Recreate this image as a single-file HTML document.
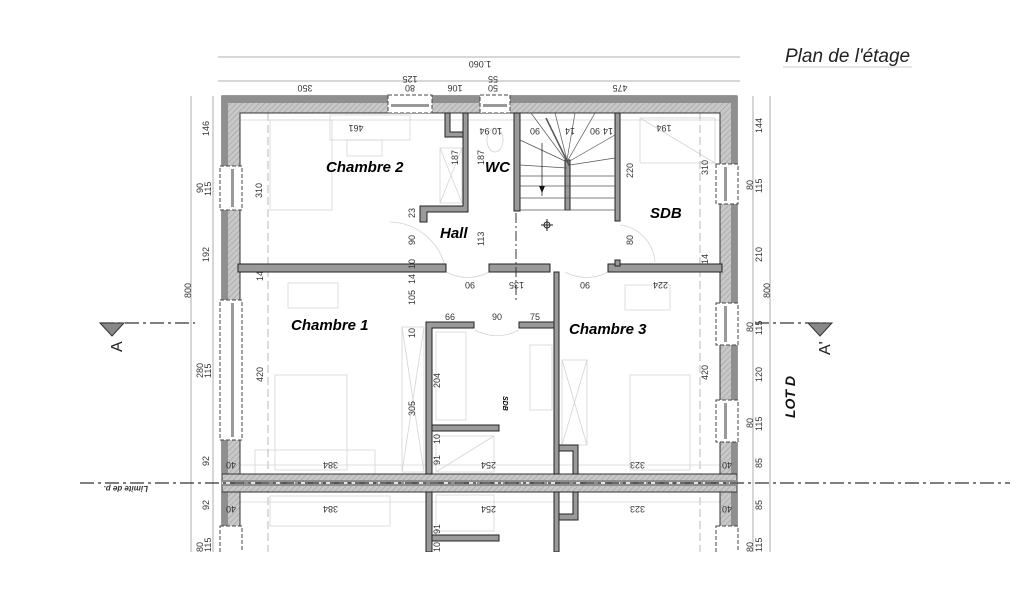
<!DOCTYPE html>
<html><head><meta charset="utf-8"><style>
html,body{margin:0;padding:0;background:#fff}
svg{display:block}
text{font-family:"Liberation Sans",sans-serif}
.d{font-size:9px;fill:#333}
.r{font-size:15px;font-weight:bold;font-style:italic;fill:#000}
.f{fill:none;stroke:#d4d4d4;stroke-width:0.8}
.dl{stroke:#999;stroke-width:0.8}
</style></head><body>
<svg width="1024" height="600" viewBox="0 0 1024 600" xmlns="http://www.w3.org/2000/svg">
<defs>
<pattern id="h" width="4" height="4" patternUnits="userSpaceOnUse" patternTransform="rotate(45)">
<rect width="4" height="4" fill="#c8c8c8"/><line x1="0" y1="0" x2="0" y2="4" stroke="#a0a0a0" stroke-width="1.2"/></pattern>
</defs>
<rect width="1024" height="600" fill="#fff"/>
<clipPath id="cp"><rect x="0" y="0" width="1024" height="552"/></clipPath>
<g clip-path="url(#cp)">

<text x="785" y="62" font-size="19" font-style="italic" fill="#222">Plan de l'étage</text>
<line x1="783" y1="67" x2="912" y2="67" stroke="#bbb" stroke-width="0.8"/>

<line x1="218" y1="57" x2="740" y2="57" class="dl"/>
<text class="d" transform="translate(480,61) rotate(180)" text-anchor="middle">1.060</text>
<line x1="218" y1="81" x2="740" y2="81" class="dl"/>
<text class="d" transform="translate(305,85) rotate(180)" text-anchor="middle">350</text>
<text class="d" transform="translate(410,85) rotate(180)" text-anchor="middle">80</text>
<text class="d" transform="translate(410,76) rotate(180)" text-anchor="middle">125</text>
<text class="d" transform="translate(455,85) rotate(180)" text-anchor="middle">106</text>
<text class="d" transform="translate(493,85) rotate(180)" text-anchor="middle">50</text>
<text class="d" transform="translate(493,76) rotate(180)" text-anchor="middle">55</text>
<text class="d" transform="translate(620,85) rotate(180)" text-anchor="middle">475</text>

<line x1="191" y1="96" x2="191" y2="552" class="dl"/>
<line x1="213" y1="96" x2="213" y2="552" class="dl"/>
<line x1="753" y1="96" x2="753" y2="552" class="dl"/>
<line x1="770" y1="96" x2="770" y2="552" class="dl"/>
<g class="d">
<text transform="translate(209,136) rotate(-90)">146</text>
<text transform="translate(203,193) rotate(-90)">90</text>
<text transform="translate(211,196) rotate(-90)">115</text>
<text transform="translate(209,262) rotate(-90)">192</text>
<text transform="translate(191,298) rotate(-90)">800</text>
<text transform="translate(203,378) rotate(-90)">280</text>
<text transform="translate(211,378) rotate(-90)">115</text>
<text transform="translate(209,466) rotate(-90)">92</text>
<text transform="translate(209,510) rotate(-90)">92</text>
<text transform="translate(203,552) rotate(-90)">80</text>
<text transform="translate(211,552) rotate(-90)">115</text>
<text transform="translate(762,133) rotate(-90)">144</text>
<text transform="translate(753,190) rotate(-90)">80</text>
<text transform="translate(762,193) rotate(-90)">115</text>
<text transform="translate(762,262) rotate(-90)">210</text>
<text transform="translate(770,298) rotate(-90)">800</text>
<text transform="translate(753,332) rotate(-90)">80</text>
<text transform="translate(762,335) rotate(-90)">115</text>
<text transform="translate(762,382) rotate(-90)">120</text>
<text transform="translate(753,428) rotate(-90)">80</text>
<text transform="translate(762,431) rotate(-90)">115</text>
<text transform="translate(762,468) rotate(-90)">85</text>
<text transform="translate(762,510) rotate(-90)">85</text>
<text transform="translate(753,552) rotate(-90)">80</text>
<text transform="translate(762,552) rotate(-90)">115</text>
</g>

<g class="f">
<rect x="270" y="120" width="62" height="90"/>
<rect x="330" y="115" width="80" height="25"/>
<rect x="347" y="140" width="35" height="16"/>
<rect x="440" y="148" width="22" height="55"/>
<line x1="440" y1="148" x2="462" y2="203"/><line x1="462" y1="148" x2="440" y2="203"/>
<ellipse cx="495" cy="140" rx="8" ry="12"/>
<rect x="288" y="283" width="50" height="25"/>
<rect x="275" y="375" width="72" height="95"/>
<rect x="255" y="450" width="120" height="24"/>
<rect x="402" y="327" width="22" height="145"/>
<line x1="402" y1="327" x2="424" y2="472"/><line x1="424" y1="327" x2="402" y2="472"/>
<rect x="436" y="332" width="30" height="88"/>
<rect x="530" y="345" width="22" height="65"/>
<rect x="562" y="360" width="25" height="85"/>
<line x1="562" y1="360" x2="587" y2="445"/><line x1="587" y1="360" x2="562" y2="445"/>
<rect x="630" y="375" width="60" height="95"/>
<rect x="625" y="285" width="45" height="25"/>
<rect x="640" y="118" width="75" height="45"/>
<line x1="640" y1="118" x2="715" y2="163"/>
<rect x="436" y="436" width="58" height="36"/>
<line x1="436" y1="472" x2="494" y2="436"/>
<rect x="270" y="496" width="120" height="30"/>
<rect x="436" y="495" width="58" height="36"/>
<path d="M390,222 A58,58 0 0 1 446,272" />
<path d="M446,272 A45,45 0 0 0 489,272"/>
<path d="M475,330 A45,45 0 0 0 519,330"/>
<path d="M565,272 A45,45 0 0 0 608,272"/>
<path d="M620,225 A40,40 0 0 1 655,262"/>
<line x1="268" y1="113" x2="268" y2="552" stroke-dasharray="8,4" stroke="#aaa"/>
<line x1="700" y1="113" x2="700" y2="552" stroke-dasharray="8,4" stroke="#aaa"/>
<line x1="238" y1="120" x2="722" y2="120"/>
<line x1="238" y1="465" x2="722" y2="465"/>
<line x1="238" y1="502" x2="722" y2="502"/>
</g>

<path d="M222,96 H737 V552 H720 V113 H240 V552 H222 Z" fill="url(#h)" stroke="#333" stroke-width="1"/>
<path d="M222,96 H737 V552 H731 V103 H228 V552 H222 Z" fill="#8f8f8f"/>
<rect x="222" y="474" width="515" height="18" fill="url(#h)" stroke="#333" stroke-width="1"/>
<rect x="222" y="480" width="515" height="6" fill="#8f8f8f"/>
<line x1="222" y1="483" x2="737" y2="483" stroke="#fff" stroke-width="1.5" stroke-dasharray="8,5"/>

<g fill="#fff" stroke="#444" stroke-width="1" stroke-dasharray="4,2">
<rect x="388" y="95" width="44" height="18"/><rect x="480" y="95" width="30" height="18"/>
<rect x="220" y="166" width="22" height="44"/><rect x="220" y="300" width="22" height="140"/><rect x="220" y="526" width="22" height="30"/>
<rect x="716" y="164" width="22" height="40"/><rect x="716" y="303" width="22" height="42"/><rect x="716" y="400" width="22" height="42"/><rect x="716" y="526" width="22" height="30"/>
</g>
<g fill="#999">
<rect x="391" y="104" width="38" height="3"/><rect x="483" y="104" width="24" height="3"/>
<rect x="231" y="169" width="3" height="38"/><rect x="231" y="303" width="3" height="134"/>
<rect x="724" y="167" width="3" height="34"/><rect x="724" y="306" width="3" height="36"/><rect x="724" y="403" width="3" height="36"/>
</g>

<g fill="#9a9a9a" stroke="#222" stroke-width="1">
<rect x="238" y="264" width="208" height="8"/>
<rect x="489" y="264" width="61" height="8"/>
<rect x="608" y="264" width="114" height="8"/>
<path d="M420,206 H463 V113 H468 V212 H427 V222 H420 Z"/>
<path d="M445,113 H450 V132 H463 V137 H445 Z"/>
<rect x="514" y="113" width="6" height="98"/>
<rect x="615" y="113" width="5" height="108"/>
<rect x="615" y="260" width="5" height="6"/>
<rect x="565" y="160" width="5" height="50"/>
<path d="M426,322 H474 V328 H432 V474 H426 Z"/>
<rect x="519" y="322" width="35" height="6"/>
<rect x="554" y="272" width="5" height="202"/>
<rect x="432" y="425" width="67" height="6"/>
<path d="M559,445 H578 V474 H573 V451 H559 Z"/>
<rect x="426" y="492" width="6" height="60"/>
<rect x="554" y="492" width="5" height="60"/>
<path d="M559,492 H578 V520 H559 V514 H573 V492 Z"/>
<rect x="432" y="535" width="67" height="6"/>
</g>

<g stroke="#555" stroke-width="0.7" fill="none">
<line x1="520" y1="140" x2="567" y2="162"/><line x1="520" y1="165" x2="567" y2="168"/>
<line x1="520" y1="176" x2="615" y2="176"/><line x1="520" y1="186" x2="615" y2="186"/>
<line x1="520" y1="198" x2="615" y2="198"/><line x1="520" y1="210" x2="615" y2="210"/>
<line x1="531" y1="113" x2="567" y2="162"/><line x1="555" y1="113" x2="567" y2="160"/>
<line x1="575" y1="113" x2="567" y2="160"/><line x1="595" y1="113" x2="568" y2="160"/>
<line x1="615" y1="135" x2="568" y2="162"/><line x1="615" y1="158" x2="570" y2="165"/>
<line x1="546" y1="118" x2="570" y2="167" stroke-width="1.5"/>
<line x1="542" y1="143" x2="542" y2="196" stroke="#111"/>
</g>
<path d="M539,186 L545,186 L542,193 Z" fill="#111"/>
<line x1="516" y1="213" x2="516" y2="300" stroke="#333" stroke-dasharray="10,3,2,3"/>
<circle cx="547" cy="225" r="3" fill="none" stroke="#222"/>
<line x1="541" y1="225" x2="553" y2="225" stroke="#222"/><line x1="547" y1="219" x2="547" y2="231" stroke="#222"/>

<g stroke="#333" stroke-width="1.2" stroke-dasharray="14,4,3,4" fill="none">
<line x1="80" y1="483" x2="1010" y2="483"/>
<line x1="100" y1="323" x2="195" y2="323"/>
<line x1="755" y1="323" x2="830" y2="323"/>
</g>
<path d="M100,323 L124,323 L112,336 Z" fill="#888" stroke="#333"/>
<path d="M808,323 L832,323 L820,336 Z" fill="#888" stroke="#333"/>
<text transform="translate(122,352) rotate(-90)" font-size="16" fill="#222">A</text>
<text transform="translate(830,355) rotate(-90)" font-size="16" fill="#222">A'</text>
<text transform="translate(148,486) rotate(180)" font-size="8" font-weight="bold" font-style="italic" fill="#333">Limite de p.</text>
<text transform="translate(795,418) rotate(-90)" font-size="14" font-weight="bold" font-style="italic" fill="#111">LOT D</text>

<text class="r" x="326" y="172">Chambre 2</text>
<text class="r" x="485" y="172">WC</text>
<text class="r" x="440" y="238">Hall</text>
<text class="r" x="650" y="218">SDB</text>
<text class="r" x="291" y="330">Chambre 1</text>
<text class="r" x="569" y="334">Chambre 3</text>
<text transform="translate(503,396) rotate(90)" font-size="7" font-weight="bold" font-style="italic">SDB</text>

<g class="d">
<text transform="translate(356,125) rotate(180)" text-anchor="middle">461</text>
<text transform="translate(664,125) rotate(180)" text-anchor="middle">194</text>
<text transform="translate(262,198) rotate(-90)">310</text>
<text transform="translate(708,175) rotate(-90)">310</text>
<text transform="translate(458,165) rotate(-90)">187</text>
<text transform="translate(484,165) rotate(-90)">187</text>
<text transform="translate(484,246) rotate(-90)">113</text>
<text transform="translate(415,245) rotate(-90)">90</text>
<text transform="translate(415,218) rotate(-90)">23</text>
<text transform="translate(415,269) rotate(-90)">10</text>
<text transform="translate(415,284) rotate(-90)">14</text>
<text transform="translate(415,305) rotate(-90)">105</text>
<text transform="translate(415,338) rotate(-90)">10</text>
<text transform="translate(415,416) rotate(-90)">305</text>
<text transform="translate(440,388) rotate(-90)">204</text>
<text transform="translate(440,444) rotate(-90)">10</text>
<text transform="translate(440,465) rotate(-90)">91</text>
<text transform="translate(440,534) rotate(-90)">91</text>
<text transform="translate(440,552) rotate(-90)">10</text>
<text transform="translate(263,382) rotate(-90)">420</text>
<text transform="translate(708,380) rotate(-90)">420</text>
<text transform="translate(633,178) rotate(-90)">220</text>
<text transform="translate(633,245) rotate(-90)">80</text>
<text transform="translate(708,264) rotate(-90)">14</text>
<text transform="translate(263,281) rotate(-90)">14</text>
<text x="445" y="320">66</text><text x="492" y="320">90</text><text x="530" y="320">75</text>
<text transform="translate(475,282) rotate(180)">90</text>
<text transform="translate(524,282) rotate(180)">135</text>
<text transform="translate(590,282) rotate(180)">90</text>
<text transform="translate(668,282) rotate(180)">224</text>
<text transform="translate(338,462) rotate(180)">384</text>
<text transform="translate(496,462) rotate(180)">254</text>
<text transform="translate(645,462) rotate(180)">323</text>
<text transform="translate(338,506) rotate(180)">384</text>
<text transform="translate(496,506) rotate(180)">254</text>
<text transform="translate(645,506) rotate(180)">323</text>
<text transform="translate(236,462) rotate(180)">40</text>
<text transform="translate(732,462) rotate(180)">40</text>
<text transform="translate(236,506) rotate(180)">40</text>
<text transform="translate(732,506) rotate(180)">40</text>
<text transform="translate(502,128) rotate(180)">10 94</text>
<text transform="translate(540,128) rotate(180)">90</text>
<text transform="translate(575,128) rotate(180)">14</text>
<text transform="translate(600,128) rotate(180)">90</text>
<text transform="translate(613,128) rotate(180)">14</text>
</g>
</g>
</svg>
</body></html>
